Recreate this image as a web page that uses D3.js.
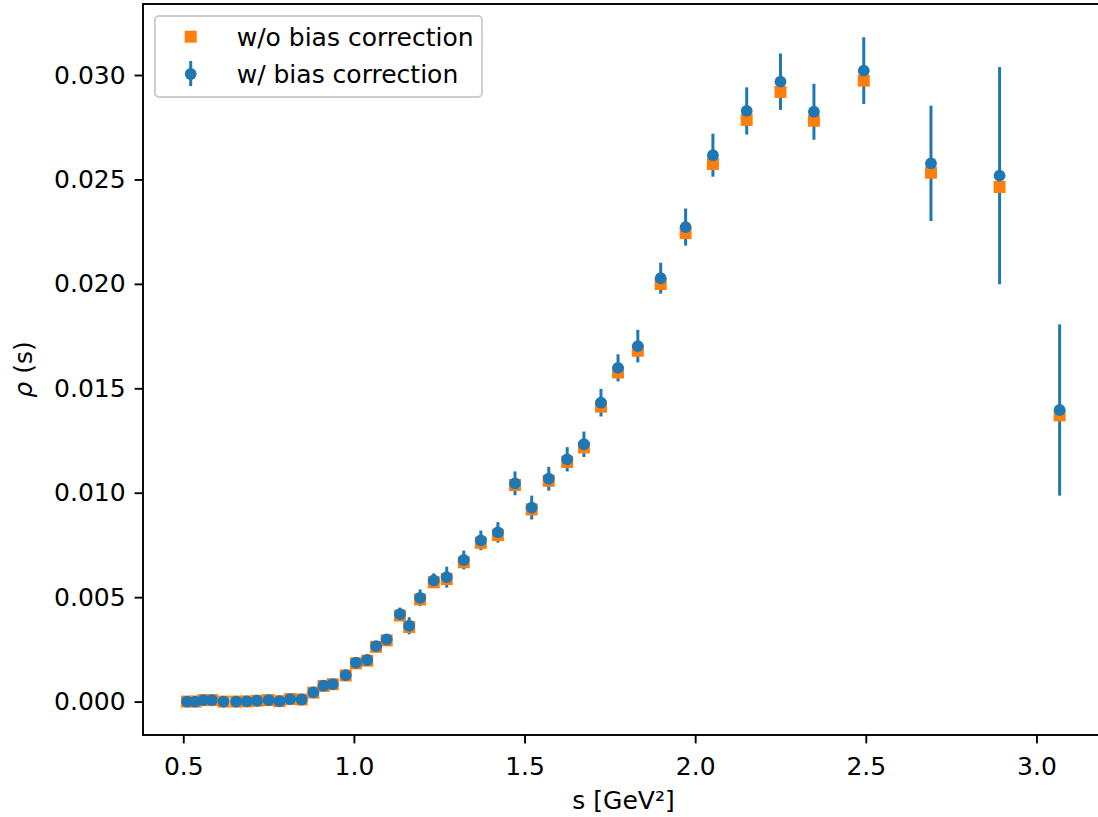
<!DOCTYPE html>
<html>
<head>
<meta charset="utf-8">
<script src="https://cdn.jsdelivr.net/npm/d3@7"></script>
<style>
  body { margin: 0; background: #fff; }
  svg { display: block; font-family: "DejaVu Sans", sans-serif; }
  .axis text { font-size: 25px; fill: #000; font-family: "DejaVu Sans", sans-serif; }
  .axis path, .axis line { stroke: #000; stroke-width: 1.9px; }
</style>
</head>
<body>
<script>
// s values (GeV^2)
var sValues = [0.511, 0.535, 0.559, 0.584, 0.618, 0.655, 0.686, 0.716, 0.750, 0.782,
  0.813, 0.847, 0.881, 0.911, 0.938, 0.976, 1.006, 1.039, 1.065, 1.096,
  1.135, 1.162, 1.194, 1.234, 1.272, 1.322, 1.372, 1.422, 1.472, 1.521,
  1.571, 1.625, 1.674, 1.724, 1.774, 1.832, 1.899, 1.972, 2.052, 2.151,
  2.250, 2.348, 2.494, 2.691, 2.892, 3.068];

// w/ bias correction (blue)
var rhoCorrected = [0.00000, 0.00000, 0.00007, 0.00007, 0.00000, 0.00000, 0.00001, 0.00004, 0.00007, 0.00002,
  0.00012, 0.00010, 0.00044, 0.00076, 0.00084, 0.00127, 0.00186, 0.00199, 0.00266, 0.00298,
  0.00419, 0.00363, 0.00497, 0.00580, 0.00596, 0.00678, 0.00772, 0.00810, 0.01045, 0.00929,
  0.01067, 0.01160, 0.01232, 0.01431, 0.01598, 0.01702, 0.02027, 0.02272, 0.02616, 0.02828,
  0.02968, 0.02824, 0.03021, 0.02577, 0.02518, 0.01396];

var rhoErr = [0.00003, 0.00003, 0.00003, 0.00003, 0.00003, 0.00003, 0.00003, 0.00003, 0.00003, 0.00003,
  0.00003, 0.00003, 0.00010, 0.00010, 0.00010, 0.00010, 0.00012, 0.00012, 0.00015, 0.00022,
  0.00031, 0.00041, 0.00040, 0.00034, 0.00050, 0.00045, 0.00047, 0.00049, 0.00057, 0.00057,
  0.00057, 0.00058, 0.00061, 0.00066, 0.00065, 0.00078, 0.00074, 0.00089, 0.00103, 0.00113,
  0.00135, 0.00134, 0.00160, 0.00276, 0.00520, 0.00410];

// w/o bias correction (orange)
var rhoUncorrected = [0.00000, 0.00000, 0.00007, 0.00007, 0.00000, 0.00000, 0.00001, 0.00004, 0.00007, 0.00002,
  0.00012, 0.00010, 0.00043, 0.00075, 0.00083, 0.00125, 0.00183, 0.00196, 0.00262, 0.00293,
  0.00412, 0.00357, 0.00489, 0.00571, 0.00587, 0.00667, 0.00760, 0.00797, 0.01037, 0.00920,
  0.01057, 0.01147, 0.01217, 0.01412, 0.01576, 0.01680, 0.01999, 0.02243, 0.02574, 0.02785,
  0.02919, 0.02781, 0.02973, 0.02532, 0.02464, 0.01370];

var xTicks = [0.5, 1.0, 1.5, 2.0, 2.5, 3.0];
var yTicks = [0.000, 0.005, 0.010, 0.015, 0.020, 0.025, 0.030];
var seriesNames = ["w/o bias correction", "w/ bias correction"];

var blue = "#1f77b4", orange = "#ff7f0e";

// canvas area (right spine falls just outside the picture)
var margin = {top: 4, right: -6, bottom: 82, left: 143},
    width = 1098 - margin.left - margin.right,
    height = 817 - margin.top - margin.bottom;

var data = sValues.map(function(s, i) {
  return {s: s, rho: rhoCorrected[i], err: rhoErr[i], raw: rhoUncorrected[i]};
});

var svg = d3.select("body").append("svg")
    .attr("width", 1098)
    .attr("height", 817)
  .append("g")
    .attr("transform", "translate(" + margin.left + "," + margin.top + ")");

var x = d3.scaleLinear().domain([0.382, 3.198]).range([0, width]);
var y = d3.scaleLinear().domain([-0.0016, 0.0334]).range([height, 0]);

// frame
svg.append("rect")
    .attr("width", width).attr("height", height)
    .attr("fill", "none").attr("stroke", "#000").attr("stroke-width", 1.9);

var xAxis = d3.axisBottom(x).tickValues(xTicks).tickFormat(d3.format(".1f"))
    .tickSize(8.4).tickPadding(14).tickSizeOuter(0);
var yAxis = d3.axisLeft(y).tickValues(yTicks).tickFormat(d3.format(".3f"))
    .tickSize(8.4).tickPadding(9).tickSizeOuter(0);

svg.append("g")
    .attr("class", "x axis")
    .attr("transform", "translate(0," + height + ")")
    .call(xAxis)
    .call(function(g) { g.select(".domain").remove(); });

svg.append("g")
    .attr("class", "y axis")
    .call(yAxis)
    .call(function(g) { g.select(".domain").remove(); });

// axis labels
svg.append("text")
    .attr("x", (x(0.382) + x(3.198)) / 2)
    .attr("y", height + 74)
    .style("text-anchor", "middle")
    .style("font-size", "25px")
    .text("s [GeV²]");

var yl = svg.append("text")
    .attr("transform", "translate(" + (-111) + "," + (height / 2) + ") rotate(-90)")
    .style("text-anchor", "middle")
    .style("font-size", "25px");
yl.append("tspan").style("font-style", "italic").text("ρ");
yl.append("tspan").text(" (s)");

// error bars (below markers)
svg.selectAll(".errbar")
    .data(data)
  .enter().append("line")
    .attr("class", "errbar")
    .attr("x1", function(d) { return x(d.s); })
    .attr("x2", function(d) { return x(d.s); })
    .attr("y1", function(d) { return y(d.rho - d.err); })
    .attr("y2", function(d) { return y(d.rho + d.err); })
    .style("stroke", blue)
    .style("stroke-width", 3);

// w/o bias correction squares
svg.selectAll(".raw")
    .data(data)
  .enter().append("rect")
    .attr("class", "raw")
    .attr("x", function(d) { return x(d.s) - 6; })
    .attr("y", function(d) { return y(d.raw) - 6; })
    .attr("width", 12)
    .attr("height", 12)
    .style("fill", orange);

// w/ bias correction dots
svg.selectAll(".corr")
    .data(data)
  .enter().append("circle")
    .attr("class", "corr")
    .attr("cx", function(d) { return x(d.s); })
    .attr("cy", function(d) { return y(d.rho); })
    .attr("r", 5.9)
    .style("fill", blue);

// legend
var legend = svg.append("g").attr("transform", "translate(12,12)");
legend.append("rect")
    .attr("width", 327).attr("height", 81)
    .attr("rx", 4).attr("ry", 4)
    .style("fill", "#fff").style("fill-opacity", 0.8)
    .style("stroke", "#cccccc").style("stroke-width", 1.9);

legend.append("rect")
    .attr("x", 29.7).attr("y", 14.7)
    .attr("width", 12).attr("height", 12)
    .style("fill", orange);
legend.append("line")
    .attr("x1", 35.7).attr("x2", 35.7).attr("y1", 45).attr("y2", 70)
    .style("stroke", blue).style("stroke-width", 3);
legend.append("circle")
    .attr("cx", 35.7).attr("cy", 58).attr("r", 5.9)
    .style("fill", blue);

legend.selectAll(".legtext")
    .data(seriesNames)
  .enter().append("text")
    .attr("class", "legtext")
    .attr("x", 81.7)
    .attr("y", function(d, i) { return 30 + i * 36.5; })
    .style("font-size", "25px")
    .text(function(d) { return d; });
</script>
</body>
</html>
